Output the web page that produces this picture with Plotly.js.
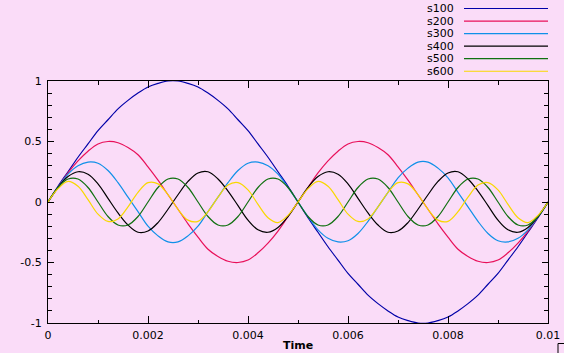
<!DOCTYPE html>
<html><head><meta charset="utf-8">
<script src="https://cdn.plot.ly/plotly-3.0.1.min.js"></script>
<style>html,body{margin:0;padding:0;background:#fadcf8;}</style>
</head><body>
<div id="chart" style="width:564px;height:353px;"></div>
<script>
const time = [0,0.0002,0.0004,0.0006,0.0008,0.001,0.0012,0.0014,0.0016,0.0018,
 0.002,0.0022,0.0024,0.0026,0.0028,0.003,0.0032,0.0034,0.0036,0.0038,
 0.004,0.0042,0.0044,0.0046,0.0048,0.005,0.0052,0.0054,0.0056,0.0058,
 0.006,0.0062,0.0064,0.0066,0.0068,0.007,0.0072,0.0074,0.0076,0.0078,
 0.008,0.0082,0.0084,0.0086,0.0088,0.009,0.0092,0.0094,0.0096,0.0098,0.01];

const s100 = [0,0.13,0.25,0.37,0.48,0.59,0.68,0.77,0.84,0.90,0.95,0.98,1.00,1.00,0.98,0.95,0.90,0.84,0.77,0.68,0.59,0.48,0.37,0.25,0.13,
 0,-0.13,-0.25,-0.37,-0.48,-0.59,-0.68,-0.77,-0.84,-0.90,-0.95,-0.98,-1.00,-1.00,-0.98,-0.95,-0.90,-0.84,-0.77,-0.68,-0.59,-0.48,-0.37,-0.25,-0.13,0];

const s200 = [0,0.12,0.24,0.34,0.42,0.48,0.50,0.49,0.45,0.39,0.29,0.18,0.06,-0.06,-0.18,-0.29,-0.39,-0.45,-0.49,-0.50,-0.48,-0.42,-0.34,-0.24,-0.12,
 0,0.12,0.24,0.34,0.42,0.48,0.50,0.49,0.45,0.39,0.29,0.18,0.06,-0.06,-0.18,-0.29,-0.39,-0.45,-0.49,-0.50,-0.48,-0.42,-0.34,-0.24,-0.12,0];

const s300 = [0,0.12,0.23,0.30,0.33,0.32,0.26,0.16,0.04,-0.08,-0.20,-0.28,-0.33,-0.33,-0.28,-0.20,-0.08,0.04,0.16,0.26,0.32,0.33,0.30,0.23,0.12,
 0,-0.12,-0.23,-0.30,-0.33,-0.32,-0.26,-0.16,-0.04,0.08,0.20,0.28,0.33,0.33,0.28,0.20,0.08,-0.04,-0.16,-0.26,-0.32,-0.33,-0.30,-0.23,-0.12,0];

const s400 = [0,0.12,0.21,0.25,0.23,0.15,0.03,-0.09,-0.19,-0.25,-0.24,-0.17,-0.06,0.06,0.17,0.24,0.25,0.19,0.09,-0.03,-0.15,-0.23,-0.25,-0.21,-0.12,
 0,0.12,0.21,0.25,0.23,0.15,0.03,-0.09,-0.19,-0.25,-0.24,-0.17,-0.06,0.06,0.17,0.24,0.25,0.19,0.09,-0.03,-0.15,-0.23,-0.25,-0.21,-0.12,0];

const s500 = [0,0.12,0.19,0.19,0.12,0,-0.12,-0.19,-0.19,-0.12,
 0,0.12,0.19,0.19,0.12,0,-0.12,-0.19,-0.19,-0.12,
 0,0.12,0.19,0.19,0.12,0,-0.12,-0.19,-0.19,-0.12,
 0,0.12,0.19,0.19,0.12,0,-0.12,-0.19,-0.19,-0.12,
 0,0.12,0.19,0.19,0.12,0,-0.12,-0.19,-0.19,-0.12,0];

const s600 = [0,0.11,0.17,0.13,0.02,-0.10,-0.16,-0.14,-0.04,0.08,0.16,0.15,0.06,-0.06,-0.15,-0.16,-0.08,0.04,0.14,0.16,0.10,-0.02,-0.13,-0.17,-0.11,
 0,0.11,0.17,0.13,0.02,-0.10,-0.16,-0.14,-0.04,0.08,0.16,0.15,0.06,-0.06,-0.15,-0.16,-0.08,0.04,0.14,0.16,0.10,-0.02,-0.13,-0.17,-0.11,0];

const seriesNames = ["s100","s200","s300","s400","s500","s600"];
const seriesValues = [s100,s200,s300,s400,s500,s600];
const seriesColors = ["#0000a8","#e8105a","#1090e8","#000000","#107010","#f8d800"];

const FONT = "DejaVu Sans";
const traces = seriesNames.map((n,i)=>({
  x: time, y: seriesValues[i], name: n, type: "scatter", mode: "lines",
  line: {color: seriesColors[i], width: 1.2, shape: "spline", smoothing: 1},
  hoverinfo: "skip"
}));

// legend built from the series (labels right-aligned, line sample on the right)
const annotations = [];
const shapes = [];
const plotH = 242, plotW = 500;
seriesNames.forEach((n,i)=>{
  const py = 8.5 + 12.55*i;
  const yp = (323 - py)/plotH;
  annotations.push({xref:"paper", yref:"paper", x:(456-48)/plotW, y:yp, xanchor:"right", yanchor:"middle",
    text:n, showarrow:false, font:{family:FONT, size:11, color:"#000"}});
  shapes.push({type:"line", xref:"paper", yref:"paper", x0:(464-48)/plotW, x1:(548-48)/plotW, y0:yp, y1:yp,
    line:{color:seriesColors[i], width:1.2}});
});
// small corner mark bottom right
shapes.push({type:"path", xref:"paper", yref:"paper",
  path:"M "+((558-48)/plotW)+" "+((323-354)/plotH)+" L "+((558-48)/plotW)+" "+((323-343.5)/plotH)+" L "+((566-48)/plotW)+" "+((323-343.5)/plotH),
  line:{color:"#000", width:1}});

const layout = {
  width: 564, height: 353,
  margin: {l:48, r:16, t:81, b:30, pad:0},
  paper_bgcolor: "#fadcf8", plot_bgcolor: "#fadcf8",
  showlegend: false,
  font: {family: FONT, size: 11, color: "#000"},
  xaxis: {
    range: [0, 0.01], tickvals: [0,0.002,0.004,0.006,0.008,0.01], ticktext: ["0","0.002","0.004","0.006","0.008","0.01"],
    ticks: "inside", ticklen: 7, tickwidth: 1, tickcolor: "#000",
    minor: {dtick: 0.001, ticks: "inside", ticklen: 3.5, tickwidth: 1, tickcolor: "#000", showgrid:false},
    showline: true, linecolor: "#000", linewidth: 1, mirror: "allticks",
    showgrid: false, zeroline: false, ticklabelstandoff: 2,
    tickfont: {family: FONT, size: 11, color: "#000"},
    title: {text: "<b>Time</b>", font: {family: FONT, size: 11, color: "#000"}, standoff: 0},
    automargin: false
  },
  yaxis: {
    range: [-1, 1], tickvals: [-1,-0.5,0,0.5,1], ticktext: ["-1","-0.5","0","0.5","1"],
    ticks: "inside", ticklen: 6, tickwidth: 1, tickcolor: "#000",
    minor: {dtick: 0.1, ticks: "inside", ticklen: 4, tickwidth: 1, tickcolor: "#000", showgrid:false},
    showline: true, linecolor: "#000", linewidth: 1, mirror: "allticks",
    showgrid: false, zeroline: false, ticklabelstandoff: 3,
    tickfont: {family: FONT, size: 11, color: "#000"},
    automargin: false
  },
  annotations: annotations,
  shapes: shapes
};

Plotly.newPlot("chart", traces, layout, {staticPlot: true, displayModeBar: false});
</script>
</body></html>
